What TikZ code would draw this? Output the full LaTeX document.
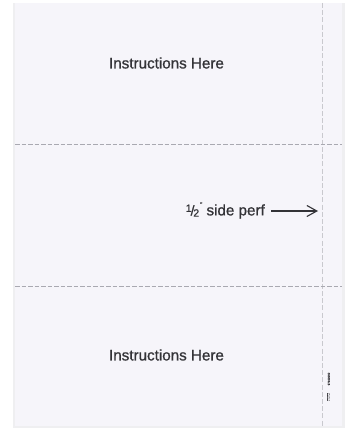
\documentclass[tikz,border=0pt]{standalone}
\usepackage{fontspec}
\setmainfont{Liberation Sans}
\newfontfamily\medfont[FakeBold=0.9]{Liberation Sans}
\usetikzlibrary{arrows.meta}
\definecolor{pagebg}{HTML}{F6F5FA}
\definecolor{perf}{HTML}{A9A9B1}
\definecolor{vperf}{HTML}{C9C9CE}
\definecolor{txt}{HTML}{333337}
\definecolor{shade}{HTML}{E4E4E8}
\tikzset{
  lbl/.style={font=\medfont\fontsize{15.2}{18}\selectfont, text=txt, inner sep=0pt},
  hperf/.style={draw=perf, line width=1pt, dash pattern=on 4.5pt off 2pt},
  vperfline/.style={draw=vperf, line width=1.2pt, dash pattern=on 5pt off 2.2pt},
  tiny/.style={font=\medfont\fontsize{2.8}{3}\selectfont, text=txt, inner sep=0pt, rotate=90}
}
\begin{document}
\begin{tikzpicture}[x=1pt,y=-1pt]
\useasboundingbox (0,0) rectangle (349,428);
\fill[white] (0,0) rectangle (349,428);
% shadow
\fill[shade] (14,4) rectangle (344,428);
\fill[shade!60] (13,3) rectangle (345,428);
% page
\fill[pagebg] (15,3) rectangle (342,426);
% perforations
\coordinate (vt) at (322.5,3);
\coordinate (vb) at (322.5,426);
\draw[vperfline] (vt) -- (vb);
\coordinate (h1l) at (15,144.5);
\coordinate (h1r) at (342,144.5);
\coordinate (h2l) at (15,286.5);
\coordinate (h2r) at (342,286.5);
\draw[hperf] (h1l) -- (h1r);
\draw[hperf] (h2l) -- (h2r);
% texts
\node[lbl] (t1) at (166.5,63) {Instructions Here};
\node[lbl] (t3) at (166.5,355) {Instructions Here};
\node[lbl, anchor=east] (t2) at (265,210.5) {\raisebox{0.45ex}{\fontsize{10.5}{10}\selectfont 1}\kern-1pt{\fontsize{14}{14}\selectfont/}\kern-1.2pt\raisebox{-0.15ex}{\fontsize{10.5}{10}\selectfont 2}\kern1pt\raisebox{1.1ex}{\fontsize{6}{6}\selectfont\textquotedbl}\ side perf};
\coordinate (arrEnd) at (318,211);
\draw[txt, line width=1.1pt, -{Straight Barb[length=10pt,width=11pt,line width=1.1pt]}] ([xshift=6pt]t2.east |- arrEnd) -- (arrEnd);
% tiny marks
\node[tiny] (m1) at (328.8,379) {97100000};
\node[tiny, fill=txt, text=pagebg, inner sep=0.4pt] (m2) at (328.8,397) {NEBS};
\end{tikzpicture}
\end{document}
